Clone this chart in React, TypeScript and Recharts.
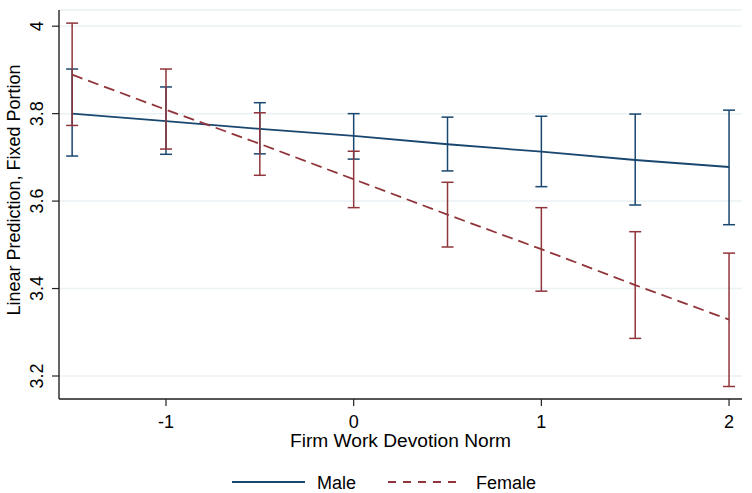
import { ComposedChart, Line, XAxis, YAxis, CartesianGrid, ErrorBar, Label } from 'recharts';

const devotion = [-1.5, -1, -0.5, 0, 0.5, 1, 1.5, 2];

const maleFit = [3.8, 3.783, 3.765, 3.749, 3.73, 3.713, 3.694, 3.678];
const maleLow = [3.703, 3.707, 3.708, 3.696, 3.669, 3.633, 3.591, 3.546];
const maleHigh = [3.902, 3.861, 3.825, 3.8, 3.792, 3.794, 3.799, 3.808];

const femaleFit = [3.889, 3.809, 3.731, 3.65, 3.569, 3.49, 3.408, 3.329];
const femaleLow = [3.773, 3.719, 3.659, 3.585, 3.495, 3.394, 3.286, 3.176];
const femaleHigh = [4.007, 3.902, 3.802, 3.714, 3.643, 3.585, 3.53, 3.481];

const xTicks = [-1, 0, 1, 2];
const yTicks = [3.2, 3.4, 3.6, 3.8, 4];

const NAVY = '#1a476f';
const MAROON = '#90353b';
const FONT = '"Liberation Sans", Arial, sans-serif';

const rows = devotion.map((x, i) => ({
  x,
  male: maleFit[i],
  female: femaleFit[i],
  maleErr: [maleFit[i] - maleLow[i], maleHigh[i] - maleFit[i]],
  femaleErr: [femaleFit[i] - femaleLow[i], femaleHigh[i] - femaleFit[i]],
}));

function YTick(props: any) {
  const { x, y, payload } = props;
  return (
    <text x={x} y={y} transform={`rotate(-90 ${x} ${y})`} textAnchor="middle" fontSize={18} fill="#000" fontFamily={FONT}>
      {payload.value}
    </text>
  );
}

export default function App() {
  return (
    <div style={{ position: 'absolute', left: 0, top: 0, width: 752, height: 493, background: '#fff', fontFamily: FONT }}>
      <ComposedChart width={752} height={493} data={rows} margin={{ top: 10, right: 10, left: 0, bottom: 0 }}>
        <CartesianGrid vertical={false} stroke="#eaf2f3" strokeWidth={1.5} />
        <XAxis
          type="number"
          dataKey="x"
          domain={[-1.57, 2.069]}
          allowDataOverflow
          ticks={xTicks}
          height={94}
          tickSize={7}
          tickMargin={9}
          axisLine={{ stroke: '#222', strokeWidth: 1.4 }}
          tickLine={{ stroke: '#222', strokeWidth: 1.2 }}
          tick={{ fontSize: 18, fill: '#000', fontFamily: FONT }}
        >
          <Label
            content={(p: any) => {
              const vb = p.viewBox || { x: 59, width: 683 };
              return (
                <text
                  x={vb.x + vb.width / 2}
                  y={447}
                  textAnchor="middle"
                  fontSize={18}
                  fill="#000"
                  fontFamily={FONT}
                  textLength={221}
                  lengthAdjust="spacingAndGlyphs"
                >
                  Firm Work Devotion Norm
                </text>
              );
            }}
          />
        </XAxis>
        <YAxis
          type="number"
          domain={[3.1474, 4.037]}
          allowDataOverflow
          ticks={yTicks}
          width={59}
          tickSize={7}
          tickMargin={9}
          axisLine={{ stroke: '#222', strokeWidth: 1.4 }}
          tickLine={{ stroke: '#222', strokeWidth: 1.2 }}
          tick={<YTick />}
        >
          <Label
            content={() => (
              <text x={20} y={190} transform="rotate(-90 20 190)" textAnchor="middle" fontSize={18} fill="#000" fontFamily={FONT}>
                Linear Prediction, Fixed Portion
              </text>
            )}
          />
        </YAxis>
        <Line type="linear" dataKey="male" stroke={NAVY} strokeWidth={1.8} dot={false} isAnimationActive={false}>
          <ErrorBar dataKey="maleErr" direction="y" width={6} stroke={NAVY} strokeWidth={1.5} />
        </Line>
        <Line
          type="linear"
          dataKey="female"
          stroke={MAROON}
          strokeWidth={1.8}
          strokeDasharray="11 6"
          dot={false}
          isAnimationActive={false}
        >
          <ErrorBar dataKey="femaleErr" direction="y" width={6} stroke={MAROON} strokeWidth={1.5} />
        </Line>
      </ComposedChart>
      <div style={{ position: 'absolute', left: 0, top: 468, width: 752, height: 28 }}>
        <svg width={752} height={28}>
          <line x1={232} y1={14} x2={305} y2={14} stroke={NAVY} strokeWidth={1.8} />
          <text x={317} y={20.5} fontSize={18} fill="#000" fontFamily={FONT}>
            Male
          </text>
          <line x1={388} y1={14} x2={462} y2={14} stroke={MAROON} strokeWidth={1.8} strokeDasharray="8 7" />
          <text x={476} y={20.5} fontSize={18} fill="#000" fontFamily={FONT}>
            Female
          </text>
        </svg>
      </div>
    </div>
  );
}
